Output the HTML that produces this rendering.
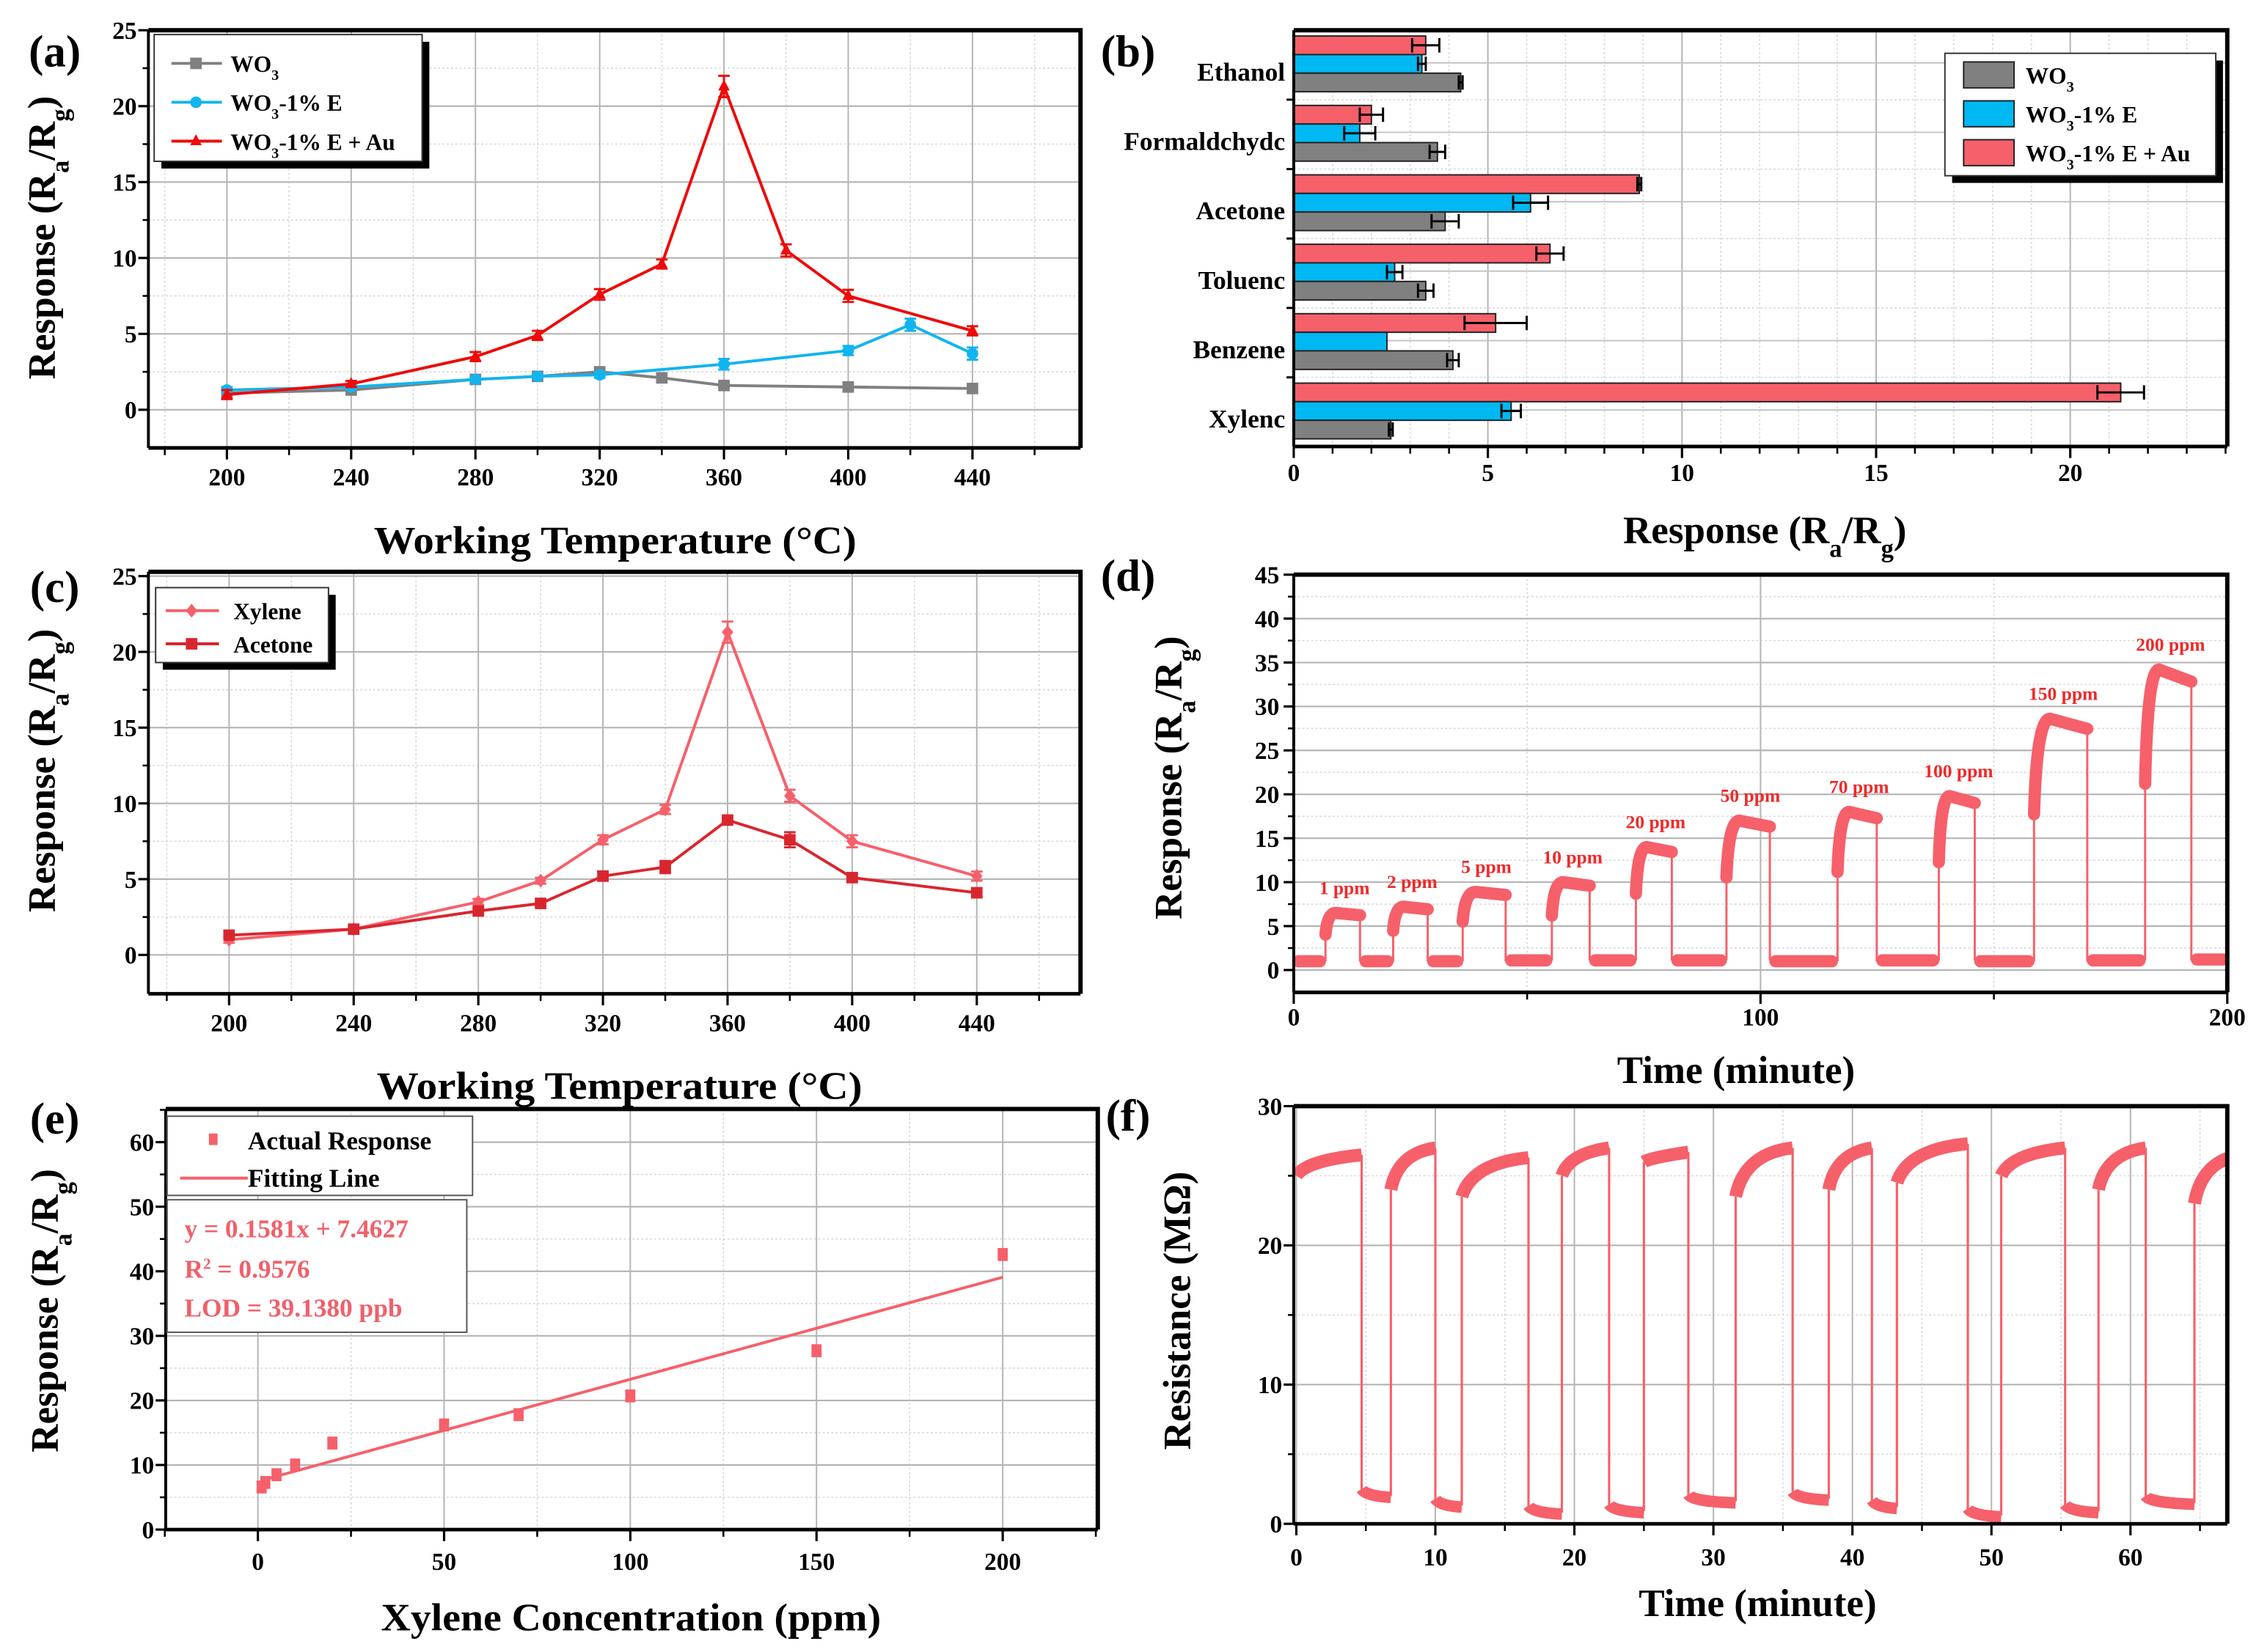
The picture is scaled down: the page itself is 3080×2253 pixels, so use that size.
<!DOCTYPE html>
<html><head><meta charset="utf-8"><style>
html,body{margin:0;padding:0;background:#fff;}
svg{display:block;}
text{font-family:"Liberation Serif",serif;font-weight:bold;fill:#000;}
</style></head>
<body>
<svg id="chart" xmlns="http://www.w3.org/2000/svg" width="3080" height="2253" viewBox="0 0 1568 1147"></svg>
<script>
// ---- Panel (a) data ----
const tempsWO3 = [200,240,280,300,320,340,360,400,440];
const respWO3 = [1.1,1.3,2.0,2.2,2.5,2.1,1.6,1.5,1.4];
const tempsE = [200,240,280,300,320,360,400,420,440];
const respE = [1.3,1.5,2.0,2.2,2.3,3.0,3.9,5.6,3.7];
const errE = [0.2,0.15,0.15,0.15,0.2,0.35,0.3,0.4,0.4];
const tempsAu = [200,240,280,300,320,340,360,380,400,440];
const respAu = [1.0,1.7,3.5,4.9,7.6,9.6,21.3,10.5,7.5,5.2];
const errAu = [0.3,0.2,0.3,0.3,0.35,0.3,0.7,0.4,0.4,0.3];
// ---- Panel (b) data ----
const gases = ["Ethanol","Formaldehyde","Acetone","Toluene","Benzene","Xylene"];
const gasLabels = ["Ethanol","Formaldchydc","Acetone","Toluenc","Benzene","Xylenc"];
const barWO3 = [4.3,3.7,3.9,3.4,4.1,2.5];
const barWO3Err = [0.05,0.2,0.35,0.2,0.15,0.05];
const barE = [3.3,1.7,6.1,2.6,2.4,5.6];
const barEErr = [0.1,0.4,0.45,0.2,0.0,0.25];
const barAu = [3.4,2.0,8.9,6.6,5.2,21.3];
const barAuErr = [0.35,0.3,0.05,0.35,0.8,0.6];
// ---- Panel (c) data ----
const tempsC = [200,240,280,300,320,340,360,380,400,440];
const xyleneC = [1.0,1.7,3.5,4.9,7.6,9.6,21.3,10.5,7.5,5.2];
const acetoneC = [1.3,1.7,2.9,3.4,5.2,5.8,8.9,7.6,5.1,4.1];
const acetoneErr = [0.1,0.1,0.2,0.2,0.3,0.4,0.2,0.5,0.2,0.3];
// ---- Panel (d) data ----
const pulseLabels = ["1 ppm","2 ppm","5 ppm","10 ppm","20 ppm","50 ppm","70 ppm","100 ppm","150 ppm","200 ppm"];
const pulseRise = [6.8,21.3,36.2,55.3,73.3,92.7,116.5,138.2,158.6,182.4];
const pulseFall = [14.2,28.7,45.4,63.4,81.0,102.0,124.9,145.9,170.0,192.3];
const pulsePeak = [6.5,7.2,8.9,10.0,14.0,17.0,18.0,19.8,28.6,34.2];
const baseResp = [1.0,1.0,1.0,1.1,1.1,1.1,1.0,1.1,1.0,1.1];
// ---- Panel (e) data ----
const concE = [1,2,5,10,20,50,70,100,150,200];
const respConc = [6.6,7.3,8.5,10.0,13.4,16.2,17.8,20.7,27.7,42.6];
const fitSlope = 0.1581;
const fitIntercept = 7.4627;
// ---- Panel (f) data ----
const cycRise = [0,6.8,11.9,19.1,25.0,31.6,38.3,43.2,50.7,57.7,64.6];
const cycDrop = [4.7,10.0,16.7,22.5,28.2,35.7,41.4,48.3,55.3,61.1,68];
const highStartF = [25.0,24.0,23.5,25.0,26.0,23.5,24.0,24.5,25.0,24.0,23.0];
const highEndF = [26.5,27.0,26.3,27.0,26.7,27.0,27.0,27.3,27.0,27.0,26.5];
const lowF = [2.0,1.3,0.8,0.9,1.6,1.8,1.2,0.6,0.9,1.5,1.5];

const NS = "http://www.w3.org/2000/svg";
const S = document.getElementById('chart');
function mk(tag, attrs, name, parent) {
  const e = document.createElementNS(NS, tag);
  for (const k in attrs) e.setAttribute(k, attrs[k]);
  
  
  (parent || S).appendChild(e);
  return e;
}
function tx(html, x, y, size, anchor, name, extra) {
  const a = Object.assign({x:x, y:y, 'font-size':size, 'text-anchor':anchor || 'middle'}, extra || {});
  const t = mk('text', a, name);
  t.innerHTML = html;
  return t;
}
function lin(d0,d1,r0,r1){return v => r0 + (v-d0)*(r1-r0)/(d1-d0);}
const SUB = (s)=>`<tspan baseline-shift="sub" font-size="65%">${s}</tspan>`;
const RESP = `Response (R${SUB('a')}/R${SUB('g')})`;

function frame(pfx, x0,x1,y0,y1, xs, ys, xMaj, xMin, yMaj, yMin, xLab, yLab, xLabY, yLabX, gridX, gridY) {
  // grid
  yMin.forEach(v => mk('line',{x1:x0,x2:x1,y1:ys(v),y2:ys(v),stroke:'#d8d8d8','stroke-width':0.8,'stroke-dasharray':'1.5,1.5'}, pfx+'-minor-grid-y'));
  xMin.forEach(v => mk('line',{y1:y0,y2:y1,x1:xs(v),x2:xs(v),stroke:'#d8d8d8','stroke-width':0.8,'stroke-dasharray':'1.5,1.5'}, pfx+'-minor-grid-x'));
  if (gridY) yMaj.forEach(v => mk('line',{x1:x0,x2:x1,y1:ys(v),y2:ys(v),stroke:'#b4b4b4','stroke-width':1.1}, pfx+'-grid-y'));
  if (gridX) xMaj.forEach(v => mk('line',{y1:y0,y2:y1,x1:xs(v),x2:xs(v),stroke:'#b4b4b4','stroke-width':1}, pfx+'-grid-x'));
  // ticks
  xMaj.forEach((v,i) => {
    mk('line',{x1:xs(v),x2:xs(v),y1:y1,y2:y1+8,stroke:'#000','stroke-width':1.6}, pfx+'-x-tick');
    tx(xLab[i], xs(v), xLabY, 17, 'middle', pfx+'-x-tick-label');
  });
  xMin.forEach(v => mk('line',{x1:xs(v),x2:xs(v),y1:y1,y2:y1+5,stroke:'#000','stroke-width':1.3}, pfx+'-x-minor-tick'));
  yMaj.forEach((v,i) => {
    mk('line',{x1:x0-7,x2:x0,y1:ys(v),y2:ys(v),stroke:'#000','stroke-width':1.6}, pfx+'-y-tick');
    if (yLab) tx(yLab[i], yLabX, ys(v)+6, 17, 'end', pfx+'-y-tick-label');
  });
  yMin.forEach(v => mk('line',{x1:x0-4,x2:x0,y1:ys(v),y2:ys(v),stroke:'#000','stroke-width':1.3}, pfx+'-y-minor-tick'));
}
function box(pfx,x0,x1,y0,y1){
  mk('path',{d:`M${x0},${y1} L${x0},${y0}`,stroke:'#000','stroke-width':2,fill:'none'}, pfx+'-y-axis');
  mk('path',{d:`M${x0},${y1} L${x1},${y1}`,stroke:'#000','stroke-width':2.5,fill:'none'}, pfx+'-x-axis');
  mk('path',{d:`M${x0},${y0} L${x1},${y0} L${x1},${y1}`,stroke:'#000','stroke-width':3,fill:'none'}, pfx+'-frame');
}
function range(a,b,s){const r=[];for(let v=a;v<=b+1e-9;v+=s)r.push(+v.toFixed(4));return r;}
function marker(shape, x, y, color, size, name) {
  const s = size;
  if (shape==='sq') mk('rect',{x:x-s,y:y-s,width:2*s,height:2*s,fill:color}, name);
  else if (shape==='ci') mk('circle',{cx:x,cy:y,r:s,fill:color}, name);
  else if (shape==='tri') mk('polygon',{points:`${x},${y-s*1.2} ${x-s},${y+s*0.7} ${x+s},${y+s*0.7}`,fill:color}, name);
  else if (shape==='dia') mk('polygon',{points:`${x},${y-s*1.2} ${x+s},${y} ${x},${y+s*1.2} ${x-s},${y}`,fill:color}, name);
}
function series(xs, ys, X, Y, color, shape, err, name) {
  const pts = X.map((v,i)=>xs(v)+','+ys(Y[i])).join(' ');
  mk('polyline',{points:pts,fill:'none',stroke:color,'stroke-width':2}, name+'-line');
  X.forEach((v,i)=>{
    if (err && err[i]>0) {
      const x=xs(v), a=ys(Y[i]-err[i]), b=ys(Y[i]+err[i]);
      mk('path',{d:`M${x},${a}L${x},${b}M${x-4},${a}L${x+4},${a}M${x-4},${b}L${x+4},${b}`,stroke:color,'stroke-width':1.5,fill:'none'}, name+'-error-bar');
    }
    marker(shape, xs(v), ys(Y[i]), color, 4, name+'-point');
  });
}
function legendBox(x,y,w,h,name){
  mk('rect',{x:x+5,y:y+5,width:w,height:h,fill:'#000'}, name+'-shadow');
  mk('rect',{x:x,y:y,width:w,height:h,fill:'#fff',stroke:'#333','stroke-width':1}, name);
}
const GRAY='#808080', CYAN='#12b4ef', RED='#ee0a0a', PINK='#f6606a', DRED='#d9262e';

// ===== Panel (a) =====
{
  const xs=lin(200,440,157.5,675), ys=lin(0,25,284.5,21);
  frame('a',103,750,21,311,xs,ys,range(200,440,40),[180,220,260,300,340,380,420,460],range(0,25,5),range(2.5,22.5,5),
    ['200','240','280','320','360','400','440'],['0','5','10','15','20','25'],337,95,true,true);
  series(xs,ys,tempsWO3,respWO3,GRAY,'sq',null,'a-wo3');
  series(xs,ys,tempsE,respE,CYAN,'ci',errE,'a-wo3-e');
  series(xs,ys,tempsAu,respAu,RED,'tri',errAu,'a-wo3-e-au');
  box('a',103,750,21,311);
  legendBox(107,24,186,88,'a-legend');
  const L=[['WO'+SUB('3'),GRAY,'sq'],['WO'+SUB('3')+'-1% E',CYAN,'ci'],['WO'+SUB('3')+'-1% E + Au',RED,'tri']];
  L.forEach((l,i)=>{const y=44+i*27;
    mk('line',{x1:119,x2:154,y1:y,y2:y,stroke:l[1],'stroke-width':2},'a-legend-line');
    marker(l[2],136,y,l[1],4,'a-legend-marker');
    tx(l[0],160,y+6,16,'start','a-legend-label');});
  tx('(a)',38,46,31,'middle','a-panel-label');
  tx(RESP,0,0,27,'middle','a-y-axis-title',{transform:'translate(38,165) rotate(-90)'});
  tx('Working Temperature (°C)',427,384,27,'middle','a-x-axis-title',{textLength:335,lengthAdjust:'spacingAndGlyphs'});
}
// ===== Panel (b) =====
{
  const xs=lin(0,20,898,1437);
  const y0=21, band=48.2;
  frame('b',898,1546,21,310,xs,v=>v,range(0,20,5),range(1,24,1).filter(v=>v%5),[],[],['0','5','10','15','20'],null,334,0,true,false);
  for(let i=1;i<6;i++){const y=y0+i*band;
    mk('line',{x1:898,x2:1546,y1:y,y2:y,stroke:'#d8d8d8','stroke-width':0.8,'stroke-dasharray':'1.5,1.5'},'b-band-grid');
    mk('line',{x1:893,x2:898,y1:y,y2:y,stroke:'#000','stroke-width':1.5},'b-y-tick');}
  for(let i=0;i<6;i++){const y=y0+i*band+band*0.47;
    mk('line',{x1:898,x2:1546,y1:y+(i===0?0:0),y2:y,stroke:'#c4c4c4','stroke-width':1},'b-grid-y');}
  gases.forEach((g,i)=>{
    const top=y0+i*band+4, h=12.9;
    const sets=[[barAu,barAuErr,PINK,'red'],[barE,barEErr,'#00b8f2','blue'],[barWO3,barWO3Err,'#808080','gray']];
    sets.forEach((s,j)=>{
      const y=top+j*h, w=xs(s[0][i])-898;
      mk('rect',{x:898,y:y,width:w,height:h,fill:s[2],stroke:'#222','stroke-width':1},'b-bar-'+g.toLowerCase()+'-'+s[3]);
      const e=s[1][i]; if(e>0){const a=xs(s[0][i]-e),b=xs(s[0][i]+e),c=y+h/2;
        mk('path',{d:`M${a},${c}L${b},${c}M${a},${c-5}L${a},${c+5}M${b},${c-5}L${b},${c+5}`,stroke:'#000','stroke-width':1.5,fill:'none'},'b-error-bar');}
    });
    tx(gasLabels[i],892,y0+i*band+band*0.6+6,18,'end','b-category-label');
  });
  box('b',898,1546,21,310);
  legendBox(1350,37,188,85,'b-legend');
  const L=[['WO'+SUB('3'),'#808080'],['WO'+SUB('3')+'-1% E','#00b8f2'],['WO'+SUB('3')+'-1% E + Au',PINK]];
  L.forEach((l,i)=>{const y=43+i*27;
    mk('rect',{x:1363,y:y,width:35,height:18,fill:l[1],stroke:'#222','stroke-width':1},'b-legend-swatch');
    tx(l[0],1406,y+15,16,'start','b-legend-label');});
  tx('(b)',783,46,31,'middle','b-panel-label');
  tx(RESP,1225,377,27,'middle','b-x-axis-title');
}
// ===== Panel (c) =====
{
  const xs=lin(200,440,159,678), ys=lin(0,25,663,400);
  frame('c',103,750,397,690,xs,ys,range(200,440,40),[180,220,260,300,340,380,420,460],range(0,25,5),range(2.5,22.5,5),
    ['200','240','280','320','360','400','440'],['0','5','10','15','20','25'],716,95,true,true);
  const errX=[0.2,0.2,0.2,0.2,0.3,0.3,0.7,0.4,0.4,0.3];
  series(xs,ys,tempsC,xyleneC,PINK,'dia',errX,'c-xylene');
  series(xs,ys,tempsC,acetoneC,DRED,'sq',acetoneErr,'c-acetone');
  box('c',103,750,397,690);
  legendBox(108,408,120,52,'c-legend');
  [['Xylene',PINK,'dia'],['Acetone',DRED,'sq']].forEach((l,i)=>{const y=424+i*23;
    mk('line',{x1:115,x2:152,y1:y,y2:y,stroke:l[1],'stroke-width':2},'c-legend-line');
    marker(l[2],133,y,l[1],4,'c-legend-marker');
    tx(l[0],162,y+6,16,'start','c-legend-label');});
  tx('(c)',38,418,31,'middle','c-panel-label');
  tx(RESP,0,0,27,'middle','c-y-axis-title',{transform:'translate(38,535) rotate(-90)'});
  tx('Working Temperature (°C)',430,763,27,'middle','c-x-axis-title',{textLength:337,lengthAdjust:'spacingAndGlyphs'});
}
// ===== Panel (d) =====
{
  const xs=lin(0,200,898,1546), ys=lin(0,45,673.5,399);
  frame('d',898,1546,399,689,xs,ys,[0,100,200],[50,150],range(0,45,5),range(2.5,42.5,5),['0','100','200'],
    range(0,45,5).map(String),712,888,true,true);
  const W=8.5;
  pulseRise.forEach((t0,i)=>{
    const t1=pulseFall[i], P=pulsePeak[i], d=t1-t0, b=baseResp[i];
    const prevEnd = i===0?1:pulseFall[i-1]+1.2;
    mk('line',{x1:xs(prevEnd),x2:xs(t0-1.2),y1:ys(b),y2:ys(b),stroke:PINK,'stroke-width':W,'stroke-linecap':'round'},'d-baseline-'+i);
    mk('line',{x1:xs(t0),x2:xs(t0),y1:ys(b),y2:ys(P*0.6),stroke:PINK,'stroke-width':1.5},'d-rise-'+i);
    mk('path',{d:`M${xs(t0)},${ys(P*0.62)} Q${xs(t0+0.05*d)},${ys(P)} ${xs(t0+0.3*d)},${ys(P)} L${xs(t1)},${ys(P*0.96)}`,fill:'none',stroke:PINK,'stroke-width':W,'stroke-linecap':'round'},'d-plateau-'+pulseLabels[i].replace(' ','-'));
    mk('line',{x1:xs(t1),x2:xs(t1),y1:ys(P*0.96),y2:ys(b),stroke:PINK,'stroke-width':1.5},'d-fall-'+i);
    tx(pulseLabels[i],xs(t0+d*0.55),ys(P)-13,13,'middle','d-pulse-label',{fill:'#ee2a2a',style:'fill:#ee2a2a'});
  });
  mk('line',{x1:xs(193.5),x2:xs(199),y1:ys(1.2),y2:ys(1.2),stroke:PINK,'stroke-width':W,'stroke-linecap':'round'},'d-baseline-end');
  box('d',898,1546,399,689);
  tx('(d)',783,410,31,'middle','d-panel-label');
  tx(RESP,0,0,27,'middle','d-y-axis-title',{transform:'translate(820,540) rotate(-90)'});
  tx('Time (minute)',1205,752,27,'middle','d-x-axis-title');
}
// ===== Panel (e) =====
{
  const xs=lin(0,200,179,696), ys=lin(0,60,1062,793);
  frame('e',115,762,770,1062,xs,ys,range(0,200,50),[-25,25,75,125,175,225],range(0,60,10),range(5,65,10),
    ['0','50','100','150','200'],range(0,60,10).map(String),1090,107,true,true);
  mk('line',{x1:xs(concE[0]),x2:xs(200),y1:ys(fitSlope*concE[0]+fitIntercept),y2:ys(fitSlope*200+fitIntercept),stroke:PINK,'stroke-width':2},'e-fitting-line');
  concE.forEach((c,i)=>mk('rect',{x:xs(c)-3.5,y:ys(respConc[i])-4.5,width:7,height:9,fill:PINK},'e-data-point'));
  box('e',115,762,770,1062);
  mk('rect',{x:116,y:775,width:212,height:55,fill:'#fff',stroke:'#555','stroke-width':1},'e-legend');
  mk('rect',{x:116,y:833,width:208,height:92,fill:'#fff',stroke:'#555','stroke-width':1},'e-equation-box');
  mk('rect',{x:145,y:787,width:6,height:8,fill:PINK},'e-legend-marker');
  tx('Actual  Response',172,798,18,'start','e-legend-label');
  mk('line',{x1:125,x2:172,y1:818,y2:818,stroke:PINK,'stroke-width':2},'e-legend-line');
  tx('Fitting Line',172,824,18,'start','e-legend-label');
  const ec='#f0606a';
  tx('y = 0.1581x + 7.4627',128,859,18,'start','e-equation',{style:'fill:'+ec});
  tx('R<tspan baseline-shift="super" font-size="60%">2</tspan> = 0.9576',128,887,18,'start','e-r-squared',{style:'fill:'+ec});
  tx('LOD = 39.1380 ppb',128,914,18,'start','e-lod',{style:'fill:'+ec});
  tx('(e)',38,787,31,'middle','e-panel-label');
  tx(RESP,0,0,27,'middle','e-y-axis-title',{transform:'translate(40,910) rotate(-90)'});
  tx('Xylene Concentration (ppm)',438,1132,27,'middle','e-x-axis-title',{textLength:347,lengthAdjust:'spacingAndGlyphs'});
}
// ===== Panel (f) =====
{
  const xs=lin(0,60,899.8,1478.8), ys=lin(0,30,1058,768);
  const clip=mk('clipPath',{id:'fclip'},'f-clip');
  mk('rect',{x:898,y:766,width:648,height:294},'f-clip-rect',clip);
  frame('f',898,1546,768,1058,xs,ys,range(0,60,10),range(5,65,5).filter(v=>v%10),range(0,30,10),range(5,25,10),
    ['0','10','20','30','40','50','60'],['0','10','20','30'],1087,890,true,true);
  const g=mk('g',{'clip-path':'url(#fclip)'},'f-series');
  cycRise.forEach((t0,i)=>{
    const t1=cycDrop[i];
    mk('path',{d:`M${xs(t0)},${ys(highStartF[i])} Q${xs(t0+0.15*(t1-t0))},${ys(highEndF[i]-0.4)} ${xs(t1)},${ys(highEndF[i])}`,fill:'none',stroke:PINK,'stroke-width':9},'f-high-segment',g);
    if(i<cycRise.length-1){
      const n=cycRise[i+1];
      mk('line',{x1:xs(t1),x2:xs(t1),y1:ys(highEndF[i]),y2:ys(lowF[i]),stroke:PINK,'stroke-width':1.6},'f-drop',g);
      mk('path',{d:`M${xs(t1)},${ys(lowF[i]+0.5)} Q${xs(t1+0.3)},${ys(lowF[i])} ${xs(n)},${ys(lowF[i]-0.1)}`,fill:'none',stroke:PINK,'stroke-width':8},'f-low-segment',g);
      mk('line',{x1:xs(n),x2:xs(n),y1:ys(lowF[i]),y2:ys(highStartF[i+1]),stroke:PINK,'stroke-width':1.6},'f-rise',g);
    }
  });
  box('f',898,1546,768,1058);
  tx('(f)',783,785,31,'middle','f-panel-label');
  tx('Resistance (MΩ)',0,0,27,'middle','f-y-axis-title',{transform:'translate(826,910) rotate(-90)'});
  tx('Time (minute)',1220,1122,27,'middle','f-x-axis-title');
}
</script>
</body></html>
